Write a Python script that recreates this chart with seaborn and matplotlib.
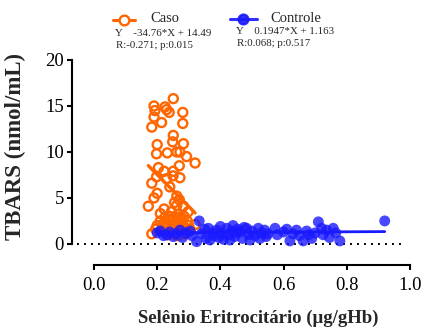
import numpy as np
import pandas as pd
import matplotlib
matplotlib.use("Agg")
import matplotlib.pyplot as plt
from matplotlib.lines import Line2D
import seaborn as sns

# ---------------- data ----------------
caso_x = [0.251, 0.19, 0.193, 0.23, 0.238, 0.281, 0.225, 0.19, 0.214, 0.183, 0.281, 0.251,
          0.249, 0.283, 0.2, 0.198, 0.232, 0.262, 0.272, 0.293, 0.32,
          0.204, 0.222, 0.251, 0.27, 0.198, 0.23, 0.25, 0.272, 0.183, 0.24, 0.2, 0.19, 0.262,
          0.172, 0.262, 0.222, 0.283, 0.298, 0.27, 0.255,
          0.183, 0.2, 0.21, 0.22, 0.225, 0.23, 0.235, 0.24, 0.245, 0.25, 0.255, 0.26, 0.265,
          0.27, 0.275, 0.28, 0.285, 0.29, 0.295, 0.3, 0.305, 0.215, 0.24, 0.26, 0.21, 0.245,
          0.23, 0.27, 0.25, 0.32, 0.195, 0.28, 0.235, 0.265, 0.29]
caso_y = [15.8, 15.0, 14.5, 14.6, 14.3, 14.3, 14.9, 13.8, 13.2, 12.7, 13.1, 11.8,
          11.1, 10.9, 10.8, 9.8, 9.9, 10.0, 10.0, 9.5, 8.8,
          8.3, 7.9, 7.9, 8.5, 7.3, 7.1, 7.4, 7.2, 6.6, 6.2, 5.5, 5.0, 5.2,
          4.1, 4.2, 3.8, 4.1, 3.5, 4.8, 4.5,
          1.1, 2.0, 2.5, 2.2, 2.9, 1.8, 2.6, 3.0, 2.1, 2.8, 1.6, 2.4, 3.2,
          1.9, 2.7, 2.2, 3.0, 1.7, 2.5, 2.0, 1.5, 1.5, 1.3, 1.2, 3.3, 3.5,
          2.3, 2.9, 2.0, 2.1, 1.6, 1.5, 1.0, 0.9, 1.1]

ctrl_x = [0.2, 0.209, 0.22, 0.23, 0.24, 0.251, 0.26, 0.272, 0.28, 0.29, 0.304, 0.31, 0.325,
          0.333, 0.34, 0.35, 0.355, 0.362, 0.367, 0.375, 0.38, 0.388, 0.395, 0.4, 0.405, 0.41,
          0.42, 0.425, 0.43, 0.435, 0.44, 0.445, 0.45, 0.455, 0.462, 0.47, 0.475, 0.483, 0.49,
          0.494, 0.5, 0.51, 0.52, 0.525, 0.53, 0.54, 0.545, 0.55, 0.573, 0.58, 0.6, 0.61, 0.62,
          0.63, 0.641, 0.65, 0.662, 0.673, 0.68, 0.689, 0.7, 0.71, 0.72, 0.725, 0.736, 0.745,
          0.757, 0.765, 0.778, 0.92]
ctrl_y = [1.2, 1.41, 0.9, 0.98, 1.3, 0.8, 1.1, 1.5, 0.7, 1.2, 1.4, 0.9, 0.25,
          2.5, 1.1, 1.6, 0.6, 1.7, 0.43, 1.2, 0.9, 1.5, 0.7, 1.9, 1.1, 0.5,
          1.7, 1.0, 0.43, 1.4, 2.0, 0.8, 1.2, 1.6, 1.3, 0.6, 1.8, 1.7, 1.0,
          0.43, 1.4, 0.9, 1.7, 0.6, 1.2, 1.5, 0.8, 1.1, 1.7, 1.0, 1.3, 1.6, 0.33,
          1.1, 1.5, 0.9, 0.33, 1.4, 1.0, 0.6, 1.2, 2.4, 1.7, 1.0, 1.5, 0.7,
          1.7, 1.2, 0.33, 2.5]

groups = ["Caso", "Controle"]
slopes = [-34.76, 0.1947]
intercepts = [14.49, 1.163]
eq_labels = ["Y    -34.76*X + 14.49", "Y    0.1947*X + 1.163"]
stat_labels = ["R:-0.271; p:0.015", "R:0.068; p:0.517"]

x_ticks = [0.0, 0.2, 0.4, 0.6, 0.8, 1.0]
y_ticks = [0, 5, 10, 15, 20]
x_label = "Selênio Eritrocitário (μg/gHb)"
y_label = "TBARS (nmol/mL)"

# ---------------- style ----------------
sns.set_theme(style="ticks")
plt.rcParams["font.family"] = ["Liberation Serif", "DejaVu Serif"]
plt.rcParams["axes.linewidth"] = 1.5

ORANGE = "#FF6600"
BLUE = "#1a1aff"

W, H = 427, 331
fig = plt.figure(figsize=(W / 100, H / 100), dpi=100)
ax_left, ax_right, ax_top, ax_bot = 75, 410, 60, 266
ax = fig.add_axes([ax_left / W, 1 - ax_bot / H, (ax_right - ax_left) / W, (ax_bot - ax_top) / H])
ax.set_facecolor("none")

caso = pd.DataFrame({"x": caso_x, "y": caso_y})
ctrl = pd.DataFrame({"x": ctrl_x, "y": ctrl_y})

# dotted baseline
ax.hlines(0, -0.055, 0.98, colors="black", linestyles=(0, (1, 2.6)), lw=1.4, zorder=1)

# Caso
sns.scatterplot(data=caso, x="x", y="y", ax=ax, marker="o", s=42,
                facecolor="none", edgecolor=ORANGE, linewidth=1.7, zorder=2, clip_on=False)
lx = np.array([min(caso_x), max(caso_x)])
sns.lineplot(x=lx, y=slopes[0] * lx + intercepts[0], ax=ax, color=ORANGE, lw=2.4, zorder=3)

# Controle
sns.scatterplot(data=ctrl, x="x", y="y", ax=ax, marker="o", s=62,
                color=BLUE, alpha=0.8, edgecolor="none", linewidth=0, zorder=4, clip_on=False)
lx2 = np.array([min(ctrl_x), max(ctrl_x)])
sns.lineplot(x=lx2, y=slopes[1] * lx2 + intercepts[1], ax=ax, color=BLUE, lw=2.0, zorder=5)

# axes
ax.set_xlim(-0.06, 1.0)
ax.set_ylim(-2.4, 20)
ax.set_xticks(x_ticks)
ax.set_xticklabels([f"{t:.1f}" for t in x_ticks])
ax.set_yticks(y_ticks)
ax.set_yticklabels([str(t) for t in y_ticks])
ax.spines["left"].set_position(("data", -0.07))
ax.spines["bottom"].set_position(("data", -2.28))
ax.spines["left"].set_bounds(0, 20)
ax.spines["bottom"].set_bounds(0, 1.0)
for s in ["top", "right"]:
    ax.spines[s].set_visible(False)
for s in ["left", "bottom"]:
    ax.spines[s].set_color("black")
    ax.spines[s].set_linewidth(1.5)
ax.tick_params(axis="both", direction="out", length=3.8, width=1.5, colors="black", labelsize=13.5)
ax.tick_params(axis="x", pad=5)
ax.tick_params(axis="y", pad=2)

ax.set_xlabel(x_label, fontsize=13.5, fontweight="bold", va="center")
ax.xaxis.set_label_coords((258.5 - ax_left) / (ax_right - ax_left), (ax_bot - 318) / (ax_bot - ax_top))
ax.set_ylabel(y_label, fontsize=16.5, fontweight="bold", va="center")
ax.yaxis.set_label_coords((15 - ax_left) / (ax_right - ax_left), (ax_bot - 146) / (ax_bot - ax_top))

# custom legend (in pixel positions of the figure)
def fx(px):
    return px / W

def fy(py):
    return 1 - py / H

handles = [
    dict(x0=113, x1=135, y=20, mfc="white", mec=ORANGE, color=ORANGE, alpha=1.0, text_x=150, eq_x=115),
    dict(x0=230, x1=257, y=19, mfc=BLUE, mec=BLUE, color=BLUE, alpha=0.9, text_x=270, eq_x=236),
]
for g, h, eq, st in zip(groups, handles, eq_labels, stat_labels):
    fig.add_artist(Line2D([fx(h["x0"]), fx(h["x1"])], [fy(h["y"]), fy(h["y"])],
                          transform=fig.transFigure, color=h["color"], lw=2.2, alpha=h["alpha"]))
    fig.add_artist(Line2D([fx((h["x0"] + h["x1"]) / 2)], [fy(h["y"])], transform=fig.transFigure,
                          marker="o", ms=7, mfc=h["mfc"], mec=h["mec"], mew=1.7, lw=0, alpha=h["alpha"]))
    fig.text(fx(h["text_x"]), fy(h["y"] - 1), g, fontsize=10.5, va="center", ha="left")
    fig.text(fx(h["eq_x"]), fy(h["y"] + 13), eq, fontsize=7.8, va="center", ha="left")
    fig.text(fx(h["eq_x"] + 1), fy(h["y"] + 25), st, fontsize=7.8, va="center", ha="left")

fig.savefig("out.png", dpi=100)
